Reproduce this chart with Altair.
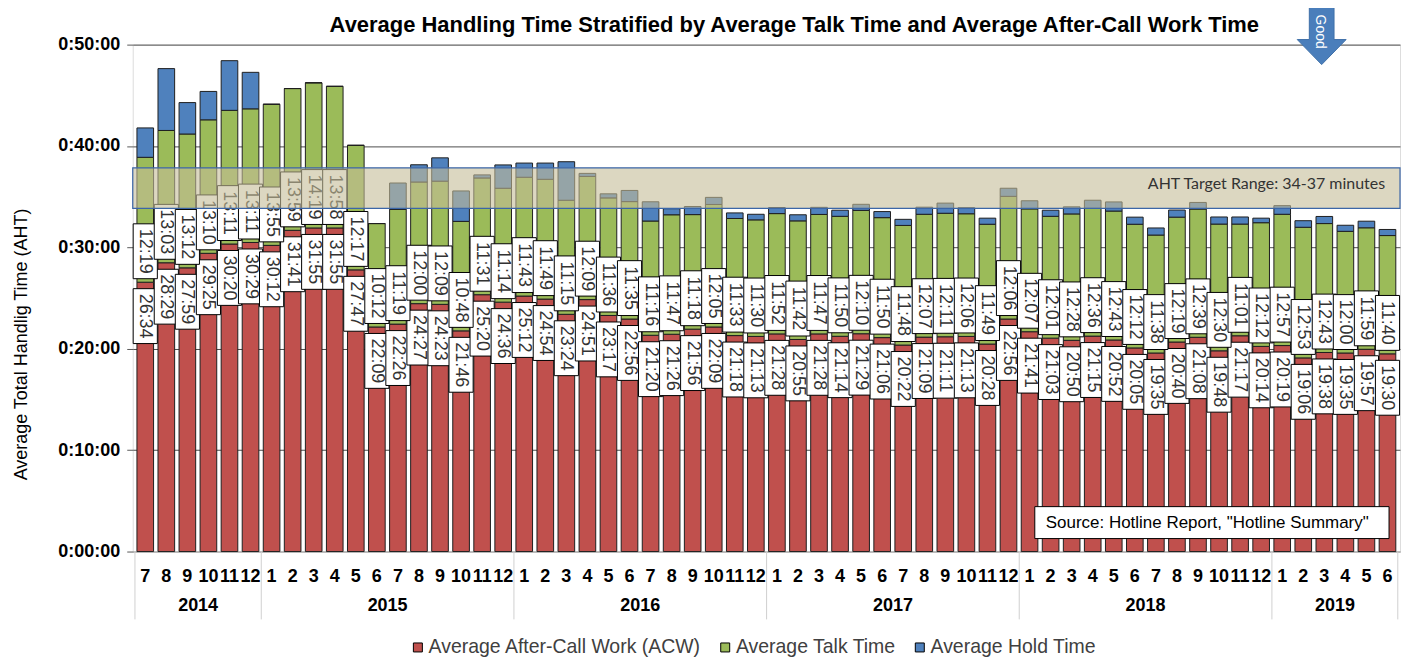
import altair as alt
import pandas as pd

# ---------------- data ----------------
years = [2014] * 6 + [2015] * 12 + [2016] * 12 + [2017] * 12 + [2018] * 12 + [2019] * 6
months = list(range(7, 13)) + list(range(1, 13)) * 4 + list(range(1, 7))

acw = ["26:34", "28:29", "27:59", "29:25", "30:20", "30:29",
       "30:12", "31:41", "31:55", "31:55", "27:47", "22:09", "22:26", "24:27", "24:23", "21:46", "25:20", "24:36",
       "25:12", "24:54", "23:24", "24:51", "23:17", "22:56", "21:20", "21:26", "21:56", "22:09", "21:18", "21:13",
       "21:28", "20:55", "21:28", "21:14", "21:29", "21:06", "20:22", "21:09", "21:11", "21:13", "20:28", "22:56",
       "21:41", "21:03", "20:50", "21:15", "20:52", "20:05", "19:35", "20:40", "21:08", "19:48", "21:17", "20:14",
       "20:19", "19:06", "19:38", "19:35", "19:57", "19:30"]
talk = ["12:19", "13:03", "13:12", "13:10", "13:11", "13:11",
        "13:55", "13:59", "14:19", "13:58", "12:17", "10:12", "11:19", "12:00", "12:09", "10:48", "11:31", "11:14",
        "11:43", "11:49", "11:15", "12:09", "11:36", "11:35", "11:16", "11:47", "11:18", "12:05", "11:33", "11:30",
        "11:52", "11:42", "11:47", "11:50", "12:10", "11:50", "11:48", "12:07", "12:11", "12:06", "11:49", "12:06",
        "12:07", "12:01", "12:28", "12:36", "12:43", "12:12", "11:38", "12:19", "12:39", "12:30", "11:01", "12:12",
        "12:57", "12:53", "12:43", "12:00", "11:59", "11:40"]
hold = [2.9, 6.1, 3.1, 2.8, 4.9, 3.6,
        0, 0, 0, 0, 0, 0, 2.6, 1.7, 2.3, 3.0, 0.3, 2.3,
        1.4, 1.6, 3.8, 0.3, 0.4, 1.1, 1.9, 0.6, 0.8, 0.7, 0.55, 0.55,
        0.6, 0.6, 0.7, 0.6, 0.6, 0.6, 0.6, 0.7, 1.0, 0.6, 0.6, 0.8,
        0.8, 0.6, 0.7, 0.8, 0.9, 0.7, 0.7, 0.7, 0.65, 0.7, 0.7, 0.45,
        0.85, 0.65, 0.7, 0.6, 0.65, 0.6]

series_names = ["Average After-Call Work (ACW)", "Average Talk Time", "Average Hold Time"]
series_colors = ["#C0504D", "#9BBB59", "#4F81BD"]
y_ticks = [0, 10, 20, 30, 40, 50]
band_lo, band_hi = 33.85, 37.85
band_text = "AHT Target Range: 34-37 minutes"
source_text = 'Source: Hotline Report, "Hotline Summary"'
title_text = "Average Handling Time Stratified by Average Talk Time and Average After-Call Work Time"
y_title = "Average Total Handlig Time (AHT)"
good_text = "Good"


def to_min(s):
    m, sec = s.split(":")
    return int(m) + int(sec) / 60.0


keys = [f"{y}-{m}" for y, m in zip(years, months)]

rows = []
for i, k in enumerate(keys):
    vals = [to_min(acw[i]), to_min(talk[i]), hold[i]]
    for j, s in enumerate(series_names):
        rows.append({"key": k, "series": s, "ord": j, "value": vals[j]})
bars_df = pd.DataFrame(rows)

lab_df = pd.DataFrame({
    "key": keys,
    "acw_min": [to_min(a) for a in acw],
    "acw_label": acw,
    "talk_label": talk,
})

year_list = sorted(set(years))
first_keys = []
mid_keys = []
for yv in year_list:
    ks = [k for k, yy in zip(keys, years) if yy == yv]
    first_keys.append(ks[0])
    mid_keys.append(ks[len(ks) // 2])
year_df = pd.DataFrame({"year": [str(y) for y in year_list], "midkey": mid_keys})
sep_df = pd.DataFrame({"key": first_keys})
end_df = pd.DataFrame({"key": [keys[-1]]})

band_df = pd.DataFrame({"lo": [band_lo], "hi": [band_hi], "mid": [(band_lo + band_hi) / 2], "label": [band_text]})
one_df = pd.DataFrame({"source": [source_text], "good": [good_text], "title": [title_text]})

# ---------------- chart ----------------
W, H = 1270, 508
FONT = "Liberation Sans, Arial, sans-serif"

xscale = alt.Scale(domain=keys, paddingInner=0.21, paddingOuter=0.2)
yscale = alt.Scale(domain=[0, 50], nice=False)

x_axis = alt.Axis(
    title=None, ticks=False, labelAngle=0, labelFontSize=18, labelFontWeight="bold",
    labelColor="black", labelFont=FONT, labelPadding=16, labelOverlap=False, labelBound=False,
    labelExpr="substring(datum.value, 5)", domainColor="#d9d9d9", domainWidth=1,
)
y_axis = alt.Axis(
    values=y_ticks,
    labelExpr="'0:' + (datum.value < 10 ? '0' : '') + datum.value + ':00'",
    labelFontSize=18, labelFontWeight="bold", labelColor="black", labelFont=FONT,
    labelPadding=7, tickSize=6, tickColor="#595959", domain=False,
    grid=True, gridColor="#4d4d4d", gridWidth=1,
    title=y_title, titleFontSize=18, titleFontWeight="normal", titleColor="black", titleFont=FONT,
    titleAngle=270, titleX=-111, titleY=300, titleAlign="center", titleBaseline="middle",
)

X = alt.X("key:N", scale=xscale, axis=x_axis)
Xn = alt.X("key:N")

bars = alt.Chart(bars_df).mark_bar(stroke="#1f1f1f", strokeWidth=1).encode(
    x=X,
    y=alt.Y("value:Q", stack="zero", scale=yscale, axis=y_axis),
    color=alt.Color(
        "series:N",
        scale=alt.Scale(domain=series_names, range=series_colors),
        legend=alt.Legend(
            orient="none", legendX=276, legendY=594, direction="horizontal", title=None,
            symbolType="square", symbolSize=81, symbolStrokeColor="black", symbolStrokeWidth=1,
            labelFontSize=19.5, labelFont=FONT, labelColor="#404040", columnPadding=14,
            labelOffset=1, padding=0, labelLimit=500,
        ),
    ),
    order=alt.Order("ord:Q", sort="ascending"),
)

box_path = "M-0.44,-1L0.44,-1L0.44,1L-0.44,1Z"
box_size = 55 * 55

red_box = alt.Chart(lab_df).mark_point(
    shape=box_path, size=box_size, filled=True, fill="white", stroke="black",
    strokeWidth=1, opacity=1, yOffset=34,
).encode(x=Xn, y=alt.Y("acw_min:Q"))
red_txt = alt.Chart(lab_df).mark_text(
    angle=90, fontSize=18, font=FONT, color="#333333", align="center", baseline="middle", yOffset=34,
).encode(x=Xn, y=alt.Y("acw_min:Q"), text="acw_label:N")

grn_box = alt.Chart(lab_df).mark_point(
    shape=box_path, size=box_size, filled=True, fill="white", stroke="black",
    strokeWidth=1, opacity=1, yOffset=-31,
).encode(x=Xn, y=alt.Y("acw_min:Q"))
grn_txt = alt.Chart(lab_df).mark_text(
    angle=90, fontSize=18, font=FONT, color="#333333", align="center", baseline="middle", yOffset=-31,
).encode(x=Xn, y=alt.Y("acw_min:Q"), text="talk_label:N")

band = alt.Chart(band_df).mark_rect(
    fill="#C4BD97", fillOpacity=0.6, stroke="#3B66A8", strokeWidth=1.2,
).encode(y="lo:Q", y2="hi:Q")
band_lbl = alt.Chart(band_df).mark_text(
    align="right", baseline="middle", font="Lato", fontSize=16, color="#333333", dy=-4,
).encode(x=alt.value(W - 15), y="mid:Q", text="label:N")

src_box = alt.Chart(one_df).mark_rect(fill="white", stroke="black", strokeWidth=1).encode(
    x=alt.value(904), x2=alt.value(1259), y=alt.value(463), y2=alt.value(495)
)
src_txt = alt.Chart(one_df).mark_text(
    align="left", baseline="middle", font=FONT, fontSize=17, color="black"
).encode(x=alt.value(915), y=alt.value(479), text="source:N")

arrow_path = "M-0.42,-1L0.42,-1L0.42,0.15L0.83,0.15L0,1L-0.83,0.15L-0.42,0.15Z"
arrow = alt.Chart(one_df).mark_point(
    shape=arrow_path, size=59 * 59, filled=True, fill="#4A7EBB", stroke="#3E6FA8",
    strokeWidth=1, opacity=1,
).encode(x=alt.value(1191.5), y=alt.value(-9.5))
good = alt.Chart(one_df).mark_text(
    angle=90, font=FONT, fontSize=14, color="white", align="center", baseline="middle"
).encode(x=alt.value(1190), y=alt.value(-13), text="good:N")

title = alt.Chart(one_df).mark_text(
    font=FONT, fontSize=22, fontWeight="bold", color="black", align="center", baseline="alphabetic"
).encode(x=alt.value(663), y=alt.value(-13), text="title:N")

seps = alt.Chart(sep_df).mark_rule(color="#d0d0d0", strokeWidth=1, xOffset=-2).encode(
    x=alt.X("key:N", bandPosition=0), y=alt.value(H), y2=alt.value(H + 68)
)
sep_end = alt.Chart(end_df).mark_rule(color="#d0d0d0", strokeWidth=1, xOffset=2).encode(
    x=alt.X("key:N", bandPosition=1), y=alt.value(H), y2=alt.value(H + 68)
)
year_lbl = alt.Chart(year_df).mark_text(
    font=FONT, fontSize=18, fontWeight="bold", color="black", baseline="middle", xOffset=-2
).encode(x=alt.X("midkey:N", bandPosition=0), y=alt.value(H + 55), text="year:N")

chart = alt.layer(
    bars, red_box, red_txt, grn_box, grn_txt, band, band_lbl,
    src_box, src_txt, seps, sep_end, year_lbl, arrow, good, title,
).properties(
    width=W, height=H,
    padding={"left": 125, "top": 36, "right": 5, "bottom": 110},
    autosize=alt.AutoSizeParams(type="none"),
).configure_view(stroke=None).configure(background="white")

chart.save("out.html", embed_options={"renderer": "svg", "actions": False})
